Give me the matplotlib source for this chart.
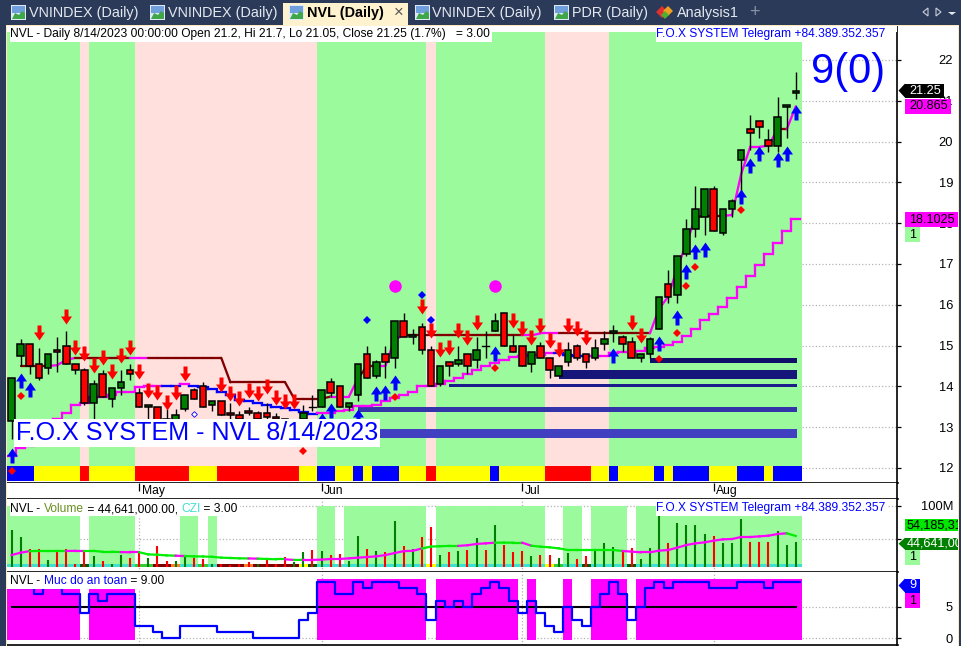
import matplotlib
matplotlib.use("Agg")
import matplotlib.pyplot as plt
from matplotlib.path import Path
from matplotlib.patches import Rectangle, Polygon
import numpy as np

plt.rcParams['font.family'] = ['Liberation Sans', 'DejaVu Sans']

# ------------------------------------------------------------------ data
opens = [13.15,14.75,15.05,14.55,14.45,14.9,15.0,14.55,14.4,13.6,
         14.3,13.7,13.95,14.4,13.85,13.5,13.5,13.2,13.1,13.45,
         13.9,14.0,13.55,13.65,13.35,13.3,13.4,13.35,13.35,13.25,
         13.2,13.15,13.2,13.5,13.5,14.1,14.0,13.5,13.8,14.8,
         14.25,14.8,14.7,15.6,15.2,15.45,14.9,14.05,14.6,14.55,
         14.8,14.65,15.0,15.35,15.8,15.0,15.0,14.55,15.0,14.7,
         14.25,14.6,15.0,14.8,14.7,15.05,15.3,15.2,15.1,14.7,
         14.8,15.4,16.5,16.25,17.25,17.85,18.15,18.85,17.75,18.35,
         19.55,20.3,20.5,20.05,19.9,20.85,21.2]
highs = [14.2,15.15,15.05,14.95,14.8,15.2,15.35,14.55,14.45,14.15,
         14.4,13.95,14.4,14.55,13.95,13.55,13.5,13.45,13.45,13.8,
         13.95,14.1,13.65,13.65,13.6,13.4,13.5,13.4,13.6,13.35,
         13.2,13.2,13.55,13.8,13.9,14.2,14.0,13.6,14.55,15.0,
         14.65,15.0,15.6,15.8,15.4,15.55,15.0,14.5,14.6,15.0,
         14.8,15.2,15.35,15.8,15.8,15.25,15.0,14.85,15.1,14.7,
         14.5,15.1,15.05,14.8,15.15,15.35,15.5,15.25,15.2,14.8,
         15.2,16.2,16.85,17.2,18.1,18.9,18.85,18.9,18.35,18.6,
         19.8,20.65,20.5,20.3,21.1,20.9,21.7]
lows = [12.7,14.5,14.3,14.15,14.3,14.35,14.55,14.3,13.55,13.2,
        13.75,13.5,13.8,14.15,13.5,13.2,13.1,13.1,13.05,13.4,
        13.7,13.5,13.4,13.3,13.2,13.15,13.3,13.15,13.2,13.1,
        13.05,13.05,13.0,13.4,13.5,13.75,13.5,13.4,13.65,14.2,
        14.2,14.2,14.45,15.2,15.05,14.8,14.0,14.0,14.25,14.5,
        14.3,14.45,14.7,15.35,15.0,14.85,14.5,14.35,14.7,14.2,
        14.25,14.5,14.65,14.45,14.65,14.9,15.1,14.85,14.7,14.6,
        14.7,15.4,16.05,16.05,17.2,17.67,17.7,17.8,17.7,18.15,
        18.8,19.8,20.1,19.75,19.75,20.1,21.05]
closes = [14.2,15.05,14.5,14.2,14.8,14.85,14.55,14.4,13.6,14.05,
          13.75,13.95,14.1,14.3,13.5,13.55,13.15,13.15,13.3,13.8,
          13.7,13.5,13.65,13.3,13.3,13.2,13.35,13.2,13.25,13.2,
          13.1,13.1,13.35,13.5,13.9,13.85,13.5,13.6,14.55,14.2,
          14.6,14.6,15.6,15.2,15.25,14.9,14.0,14.5,14.5,14.65,
          14.5,14.9,15.0,15.6,15.0,14.85,14.5,14.85,14.7,14.4,
          14.5,14.9,14.7,14.6,14.95,15.15,15.35,15.05,14.7,14.8,
          15.15,16.2,16.2,17.2,17.85,18.35,18.85,17.8,18.35,18.55,
          19.8,20.2,20.35,19.9,20.6,20.9,21.25]

# resistance / fast line (nan where not drawn) and its colour per bar (d = dark red, m = magenta)
fast_line = [np.nan,14.5,14.5,14.5,14.5,14.52,14.65,14.7,14.7,14.7,
             14.7,14.7,14.7,14.7,14.7,14.7,14.7,14.7,14.7,14.7,
             14.7,14.7,14.7,14.7,14.1,14.1,14.1,14.1,14.1,14.1,
             14.1,13.7,13.7,13.7,13.7,13.75,13.75,13.75,14.2,14.5,
             14.5,14.5,15.15,15.25,15.25,15.25,15.25,15.25,15.25,15.25,
             15.25,15.25,15.25,15.25,15.25,15.25,15.25,15.25,15.3,15.3,
             15.3,15.3,15.3,15.3,15.3,15.3,15.3,15.3,15.3,15.3,
             15.3,15.9,16.2,16.9,17.5,18.15,18.18,18.18,18.18,18.2,
             19.2,19.87,19.87,19.9,20.3,20.3,20.865]
fast_color = ("dddddmmmdd" "ddddmmdddd" "dddddddddd" "ddddddmmmd"
              "dmmmdddddd" "dddddddmmm" "mddddddddd" "dmmmmmdddm" "mmmmmdm")
# slow trailing line and its colour per bar (m = magenta, b = blue)
slow_line = [12.3,12.5,12.55,12.8,13.0,13.2,13.34,13.55,13.59,13.73,
             13.75,13.79,13.87,13.87,13.98,14.02,14.02,14.02,14.02,14.05,
             14.01,13.98,13.93,13.86,13.79,13.67,13.63,13.59,13.55,13.5,
             13.46,13.42,13.37,13.33,13.36,13.36,13.4,13.42,13.52,13.52,
             13.55,13.63,13.71,13.79,13.87,14.0,14.0,14.06,14.13,14.2,
             14.31,14.39,14.49,14.57,14.65,14.71,14.75,14.77,14.77,14.83,
             14.81,14.76,14.75,14.75,14.75,14.75,14.81,14.85,14.85,14.87,
             14.95,14.97,15.01,15.08,15.23,15.40,15.62,15.77,15.95,16.16,
             16.43,16.70,16.97,17.24,17.52,17.81,18.1025]
slow_color = ("mmmmmmmmmm" "mmmmmmmbbm" "bbbbbbbbbb" "bbbbmmmmmm"
              "mmmmmmmmmm" "mmmmmmmmmm" "bbbbmmmmmm" "mmmmmmmmmm" "mmmmmmm")

red_arrow_bars = [3,6,7,8,9,10,11,12,13,14,15,16,17,18,19,23,24,25,26,27,28,29,30,31,
                  45,46,47,48,49,50,51,55,56,57,58,59,60,61,62,63,68,69]
red_arrow_tips = [15.14,15.53,14.77,14.62,14.34,14.53,14.18,14.58,14.77,14.18,13.71,13.67,
                  13.42,13.67,14.13,13.87,13.63,13.52,13.71,13.63,13.82,13.55,13.44,13.44,
                  15.78,15.18,14.71,14.77,15.18,15.02,15.38,15.42,15.24,15.02,15.3,14.93,
                  14.71,15.3,15.24,15.02,15.38,15.06]
blue_arrow_bars = [0,1,2,34,35,38,40,41,42,53,66,71,73,74,75,76,80,81,82,84,85,86]
blue_arrow_tips = [12.48,14.32,14.12,13.34,13.6,13.44,14.0,14.04,14.28,14.99,14.93,
                   15.23,15.87,17.01,17.49,17.53,18.85,19.61,19.88,19.74,19.88,20.9]
red_dia_bars = [0,1,32,42,53,71,73,74,75,80]
red_dia_vals = [11.93,13.77,12.42,13.73,14.44,14.68,15.31,16.46,16.93,18.32]
blue_dia_bars = [39,45,46]
blue_dia_vals = [15.63,16.23,15.63]
open_dia_bars = [20]
open_dia_vals = [13.33]
circle_bars = [42,53]
circle_vals = [16.46,16.46]

# support bands: first bar, lower price, upper price, colour
band_start = [70,60,48,38,34]
band_low = [14.57,14.18,13.99,13.37,12.74]
band_high = [14.70,14.40,14.06,13.50,12.96]
band_color = ['#10106a','#16167a','#1c1c8c','#3434aa','#4040c0']

zone_runs = [('g',8),('p',1),('g',5),('p',20),('g',12),('p',1),('g',12),('p',7),('g',21)]
strip_runs = [('b',3),('y',5),('r',1),('y',5),('r',6),('y',3),('r',9),('y',2),('b',2),('y',2),
              ('b',1),('y',1),('b',3),('y',3),('r',1),('y',6),('b',1),('y',5),('r',5),('y',2),
              ('b',1),('y',4),('b',1),('y',1),('b',4),('y',3),('b',3),('y',1),('b',3)]

volume = [63,52,34,34,17,29,34,12,33,24,16,12,25,21,30,20,39,16,16,23,
          21,19,12,11,10,12,15,12,20,11,22,15,30,33,31,25,27,16,54,35,
          31,29,77,39,34,53,68,25,30,31,33,51,33,71,40,30,31,24,25,25,
          20,28,19,24,31,43,37,30,36,19,36,85,43,74,71,71,57,54,43,43,
          80,45,45,45,62,40,44.641]
volume_color = "ggrrgrrrrg" "rggrrgrrgg" "rrgrrrrgrr" "rggrgrrggr" "grgrgrrgrg" "rgrgrrrgrr" "ggrrgggrrg" "ggrggggrgg" "grrrggg"
volume_ma = [25,28.6,31,31.2,31.2,31.2,31.2,31.4,31.4,31.4,
             30,30,29.5,29.3,29.3,26,25.5,24.5,24,23.5,
             23,22.8,22.3,21,20.5,20,19.8,19.5,19,18.5,
             18.5,17.5,17.6,17.6,18,19,19,20,21,22,
             23,25,28,31,31.5,35,38,38.5,39,39,
             40,42,42.9,43.9,44,43.9,43.9,39.3,37.8,36.8,
             35.3,32.7,32.7,32.7,32.7,32.7,32.7,31.2,30.2,29.2,
             29.2,31.7,32.7,36.3,40.4,42.9,44.4,47,49,49.5,
             52.6,52.6,53.6,54.6,57.2,58.2,54.185]
volume_ma_color = ("mmmggggmmg" "gggmmggggm" "gggggggmgg" "gmgmmmmmmm"
                   "mmmmmmgggg" "mmmmgggmgg" "ggggggggmm" "mmmmmmmmmm" "mmmmmmg")
vol_zone_runs = [(0,7),(9,13),(19,20),(22,22),(34,35),(37,45),(47,58),(61,62),(64,67),(69,86)]
vol_strip_runs = [('t',8),('k',1),('t',5),('l',2),('d',2),('o',1),('t',2),('l',1),('t',1),('d',3),
                  ('o',1),('d',5),('y',1),('k',1),('t',12),('y',1),('t',12),('y',1),('l',1),('t',2),
                  ('k',1),('t',4),('k',1),('t',18)]

safety = [8,8,8,7,8,8,7,7,4,7,6,7,7,7,2,2,1,0,0,2,2,2,2,1,1,1,1,0,0,0,0,0,3,4,9,9,7,7,9,8,
          9,9,9,8,8,7,3,6,5,6,5,7,8,9,8,6,4,6,4,2,1,5,3,2,5,7,9,7,3,5,8,9,8,9,9,9,9,8,8,8,
          9,9,9,8,9,9,9]

month_bars = [14,34,56,77]
month_labels = ['May','Jun','Jul','Aug']
price_ticks = [12,13,14,15,16,17,18,19,20,21,22]

tabs = ['VNINDEX (Daily)','VNINDEX (Daily)','NVL (Daily)','VNINDEX (Daily)','PDR (Daily)','Analysis1']

# ------------------------------------------------------------------ layout
W, H = 961, 646
fig = plt.figure(figsize=(W/100, H/100), dpi=100, facecolor='white')
X0, X1 = 7, 897.5
BAR0, STEP = 11.5, 9.12
xlim = ((X0-BAR0)/STEP, (X1-BAR0)/STEP)
LAST_EDGE = 86.7  # right end of the shaded zones, in bars
PAD = 37

def make_ax(ytop, ybot):
    ax = fig.add_axes([X0/W, 1-ybot/H, (X1-X0)/W, (ybot-ytop)/H], facecolor='white')
    ax.set_xlim(*xlim)
    for s in ('left','top'):
        ax.spines[s].set_visible(False)
    for s in ('right','bottom'):
        ax.spines[s].set_linewidth(1.2)
    ax.set_xticks(month_bars)
    ax.tick_params(axis='x', length=0, labelbottom=False)
    ax.yaxis.tick_right()
    ax.tick_params(axis='y', length=3, width=0.9, labelsize=9.3, pad=0, colors='black')
    ax.grid(True, color='#b4b4b4', ls=':', lw=0.9)
    ax.set_axisbelow(True)
    return ax

PTOP, PBOT = 26, 482.6
PX_PER = 40.8
ax = make_ax(PTOP, PBOT)
ax.set_ylim(22-(PBOT-60)/PX_PER, 22+(60-PTOP)/PX_PER)
py2p = lambda y: 22-(y-60)/PX_PER
p2py = lambda p: 60+(22-p)*PX_PER
ax.set_yticks(price_ticks)
for lb in ax.get_yticklabels():
    lb.set_ha('right')
ax.tick_params(axis='y', pad=PAD)

ax_date = make_ax(PBOT, 499)
ax_date.grid(False)
ax_date.set_ylim(0,1)
ax_date.set_yticks([])
ax_date.tick_params(axis='x', length=5.8, width=0.9, direction='in', top=True, bottom=False)
for b, m in zip(month_bars, month_labels):
    ax_date.annotate(m, (b,1), xytext=(1.8,-1.6), textcoords='offset points', va='top', ha='left', fontsize=8.7)

VTOP, VBOT = 499, 572
VZERO, VPX = 571.4, 32.7/50
ax_v = make_ax(VTOP, VBOT)
ax_v.set_ylim((VZERO-VBOT)/VPX, (VZERO-VTOP)/VPX)
ax_v.set_yticks([50,100])
ax_v.set_yticklabels(['','100M'])
for lb in ax_v.get_yticklabels():
    lb.set_ha('right')
ax_v.tick_params(axis='y', pad=PAD)

STOP, SBOT = 572, 645
SZERO, SPX = 638.3, 6.26
ax_s = make_ax(STOP, SBOT)
ax_s.set_ylim((SZERO-SBOT)/SPX, (SZERO-STOP)/SPX)
ax_s.set_yticks([0,5])
for lb in ax_s.get_yticklabels():
    lb.set_ha('right')
ax_s.tick_params(axis='y', pad=PAD)

# ------------------------------------------------------------------ main panel
GREEN, PINK = '#9bfa9b', '#ffe0dd'
zone_top, strip_top, strip_bot = py2p(32), py2p(466), py2p(481)
pos = 0
for kind, n in zone_runs:
    w = n if pos+n < 87 else LAST_EDGE-pos+.5
    ax.add_patch(Rectangle((pos-.5, strip_top), w, zone_top-strip_top,
                           fc=GREEN if kind == 'g' else PINK, ec='none', zorder=1))
    pos += n
pos = 0
cmap = {'b':'#0000ff','y':'#ffff00','r':'#ff0000'}
for kind, n in strip_runs:
    w = n if pos+n < 87 else LAST_EDGE-pos+.5
    ax.add_patch(Rectangle((pos-.5, strip_bot), w, strip_top-strip_bot, fc=cmap[kind], ec='none', zorder=1.5))
    pos += n
for s, lo, hi, c in zip(band_start, band_low, band_high, band_color):
    ax.add_patch(Rectangle((s, lo), 86.1-s, hi-lo, fc=c, ec='none', zorder=2))

LW = 1.65
for i in range(1, len(fast_line)):
    if np.isnan(fast_line[i-1]) or np.isnan(fast_line[i]):
        continue
    ax.plot([i-1,i],[fast_line[i-1],fast_line[i]],
            color='#800000' if fast_color[i] == 'd' else '#ff00ff',
            lw=LW, zorder=3, solid_capstyle='round')
for i, v in enumerate(slow_line):
    c = '#0000ff' if slow_color[i] == 'b' else '#ff00ff'
    xs = [i-.5,i+.5]; ys = [v,v]
    if i+1 < len(slow_line):
        xs.append(i+.5); ys.append(slow_line[i+1])
    ax.plot(xs, ys, color=c, lw=LW, zorder=3, solid_joinstyle='miter')

x = np.arange(len(opens))
ax.vlines(x, lows, highs, color='black', lw=1.0, zorder=4)
for i, (o, c) in enumerate(zip(opens, closes)):
    if o == c:
        ax.plot([i-.36,i+.36],[o,o], color='black', lw=1.0, zorder=4.5)
    else:
        col = '#008000' if c > o else '#ff0000'
        ax.bar(i, abs(c-o), bottom=min(o,c), width=0.72, color=col, edgecolor='black', lw=1.1, zorder=5)

down = Path([(0,0),(5.5,8),(2,8),(2,15),(-2,15),(-2,8),(-5.5,8),(0,0)], closed=True)
up = Path([(0,0),(5.5,-8),(2,-8),(2,-15),(-2,-15),(-2,-8),(-5.5,-8),(0,0)], closed=True)
ax.plot(red_arrow_bars, red_arrow_tips, ls='', marker=down, ms=21.6, mfc='#ff0000', mew=0, zorder=6)
ax.plot(blue_arrow_bars, blue_arrow_tips, ls='', marker=up, ms=21.6, mfc='#0000ff', mew=0, zorder=6)
ax.plot(red_dia_bars, red_dia_vals, ls='', marker='D', ms=3.6, mfc='#ff0000', mew=0, zorder=7)
ax.plot(blue_dia_bars, blue_dia_vals, ls='', marker='D', ms=3.6, mfc='#0000ff', mew=0, zorder=7)
ax.plot(open_dia_bars, open_dia_vals, ls='', marker='D', ms=2.9, mfc='white', mec='#0000ff', mew=0.6, zorder=7)
ax.plot(circle_bars, circle_vals, ls='', marker='o', ms=9, mfc='#ff00ff', mew=0, zorder=7)

# ------------------------------------------------------------------ volume panel
VZ_TOP = 100
VS_BOT, VS_TOP = (VZERO-567)/VPX, (VZERO-564)/VPX
for a, b in vol_zone_runs:
    right = LAST_EDGE if b == 86 else b+.5
    ax_v.add_patch(Rectangle((a-.5, VS_BOT), right-a+.5, VZ_TOP-VS_BOT, fc=GREEN, ec='none', zorder=1))
vmap = {'t':'#40e0d0','k':'#005a00','l':'#32cd32','d':'#800000','o':'#ff7f27','y':'#ffff00'}
pos = 0
for kind, n in vol_strip_runs:
    w = n if pos+n < 87 else LAST_EDGE-pos+.5
    ax_v.add_patch(Rectangle((pos-.5, VS_BOT), w, VS_TOP-VS_BOT, fc=vmap[kind], ec='none', zorder=1.5))
    pos += n
ax_v.vlines(x, VS_BOT, volume, colors=['#008000' if c == 'g' else '#ff0000' for c in volume_color], lw=1.5, zorder=2)
for i in range(1, len(volume_ma)):
    ax_v.plot([i-1,i],[volume_ma[i-1],volume_ma[i]],
              color='#00ee00' if volume_ma_color[i] == 'g' else '#ff00ff', lw=1.6, zorder=3)

# ------------------------------------------------------------------ safety panel
SZ_TOP, SZ_BOT = (SZERO-579)/SPX, (SZERO-640)/SPX
for i, v in enumerate(safety):
    if v >= 5:
        right = LAST_EDGE if i == 86 else i+.5
        ax_s.add_patch(Rectangle((i-.5, SZ_BOT), right-i+.5, SZ_TOP-SZ_BOT, fc='#ff00ff', ec='none', zorder=1))
ax_s.plot([0,86],[5,5], color='black', lw=1.5, zorder=2)
ax_s.step(np.arange(len(safety)+1)-.5, safety+[safety[-1]], where='post', color='#0000ff', lw=1.6, zorder=3)

# ------------------------------------------------------------------ overlay: labels, tags and window chrome
ov = fig.add_axes([0,0,1,1], facecolor='none')
ov.set_xlim(0,W); ov.set_ylim(H,0); ov.axis('off')
rend = fig.canvas.get_renderer()
FS = 8.68

def chain(x0, y, parts, fs=FS):
    xx = x0
    for s, c in parts:
        t = ov.text(xx, y, s, color=c, fontsize=fs, va='center', ha='left', zorder=20)
        xx += t.get_window_extent(rend).width
    return xx

def box(x, y, w, h, c, z=15):
    ov.add_patch(Rectangle((x,y), w, h, fc=c, ec='none', zorder=z))

box(7, 26, 890, 6, 'white')
box(10, 28, 482, 14, 'white')
chain(10, 34, [('NVL - Daily 8/14/2023 00:00:00 Open 21.2, Hi 21.7, Lo 21.05, Close 21.25 (1.7%)   = 3.00','black')])
box(656, 28, 231, 14, 'white')
chain(656.5, 34.5, [('F.O.X SYSTEM Telegram +84.389.352.357','#0000ff')])
ov.text(848.5, 72, '9(0)', color='#0000ff', fontsize=30, ha='center', va='center', zorder=20)
box(14, 419, 366, 28, 'white')
chain(15.5, 433, [('F.O.X SYSTEM - NVL 8/14/2023','#0000ff')], fs=18.1)

box(10, 502, 230, 14, 'white')
chain(10, 509, [('NVL - ','black'),('Volume','#6b8e23'),(' = 44,641,000.00, ','black'),('CZI','#40e0d0'),(' = 3.00','black')])
box(656, 503, 231, 13, 'white')
chain(656.5, 508.5, [('F.O.X SYSTEM Telegram +84.389.352.357','#0000ff')])
box(10, 574, 153, 15, 'white')
box(7, 579, 4, 10, 'white')
chain(10, 581.5, [('NVL - ','black'),('Muc do an toan','#0000ff'),(' = 9.00','black')])

def tag(y, text, bg, fg='black', xl=905, xr=None, arrow=False, h=15, tx=4):
    xr = xr or xl+len(text)*6.6+4
    ov.add_patch(Rectangle((xl, y-h/2), xr-xl, h, fc=bg, ec='none', zorder=16))
    if arrow:
        ov.add_patch(Polygon([(898.5,y),(xl,y-h/2),(xl,y+h/2)], fc=bg, ec='none', zorder=16))
    ov.text(xl+tx, y, text, color=fg, fontsize=9.1, va='center', ha='left', zorder=20)

tag(p2py(21.25), '21.25', 'black', 'white', xr=944, arrow=True, h=14)
tag(p2py(20.865), '20.865', '#ff00ff', xr=951, h=14.5)
tag(p2py(18.1025)+0.7, '18.1025', '#ff00ff', xr=958, h=15.5)
tag(234.7, '1', GREEN, xr=920)
tag(525, '54,185,31', '#00e600', xr=958, h=11.5, tx=2)
tag(VZERO-44.641*VPX+1.5, '44,641,00', '#008000', 'white', xr=958, arrow=True, h=12, tx=2)
tag(557.5, '1', GREEN, xr=920)
tag(585.5, '9', '#0000ff', 'white', xr=920, arrow=True, h=14)
tag(600.5, '1', '#ff00ff', xr=920)

# window chrome
NAVY = '#2b3a58'
box(0, 0, W, 25, NAVY, z=30)
box(0, 0, 5.5, H, NAVY, z=30)
box(958.5, 0, 3, H, NAVY, z=30)
box(0, 645.5, W, 1, NAVY, z=30)
box(5.5, 25, 953, 1.4, '#fde9bd', z=31)
box(5.5, 25, 1.2, H, '#fde9bd', z=31)
box(957.5, 25, 1.2, H, '#fde9bd', z=31)
box(283, 3, 125, 23, '#fff2cf', z=31)

def icon(x):
    box(x, 5, 15, 15, '#dfeaf6', z=32)
    box(x+1, 6, 13, 7, '#6f9fdc', z=33)
    ov.add_patch(Polygon([(x+1,19),(x+4,13),(x+8,15),(x+11,11),(x+14,13),(x+14,19)], fc='#3fa64a', ec='none', zorder=34))

for xi in (11, 150, 289, 415, 554):
    icon(xi)
tab_x = [29, 168, 307, 432, 572, 677]
for xi, s in zip(tab_x, tabs):
    bold = s.startswith('NVL')
    ov.text(xi, 13.5, s, color='black' if bold else '#e4e8f0', fontsize=10.4,
            fontweight='bold' if bold else 'normal', va='center', ha='left', zorder=35)
ov.text(399, 12.5, '×', color='#555555', fontsize=12, ha='center', va='center', zorder=35)
ov.plot([662],[12], ls='', marker='D', ms=6, mfc='#e23030', mew=0, zorder=35)
ov.plot([668],[11], ls='', marker='D', ms=5, mfc='#f0a020', mew=0, zorder=35)
ov.plot([665],[15], ls='', marker='D', ms=4.5, mfc='#50b030', mew=0, zorder=35)
ov.text(754, 12.5, '+', color='#8a93a6', fontsize=13, ha='center', va='center', zorder=35)
ov.add_patch(Polygon([(928,8),(928,16),(923,12)], fc='none', ec='#c9cfdb', lw=0.8, zorder=35))
ov.add_patch(Polygon([(936,8),(936,16),(941,12)], fc='none', ec='#c9cfdb', lw=0.8, zorder=35))
ov.add_patch(Polygon([(948,12),(956,12),(952,15)], fc='#e4e8f0', ec='none', zorder=35))

fig.savefig('out.png', dpi=100)
